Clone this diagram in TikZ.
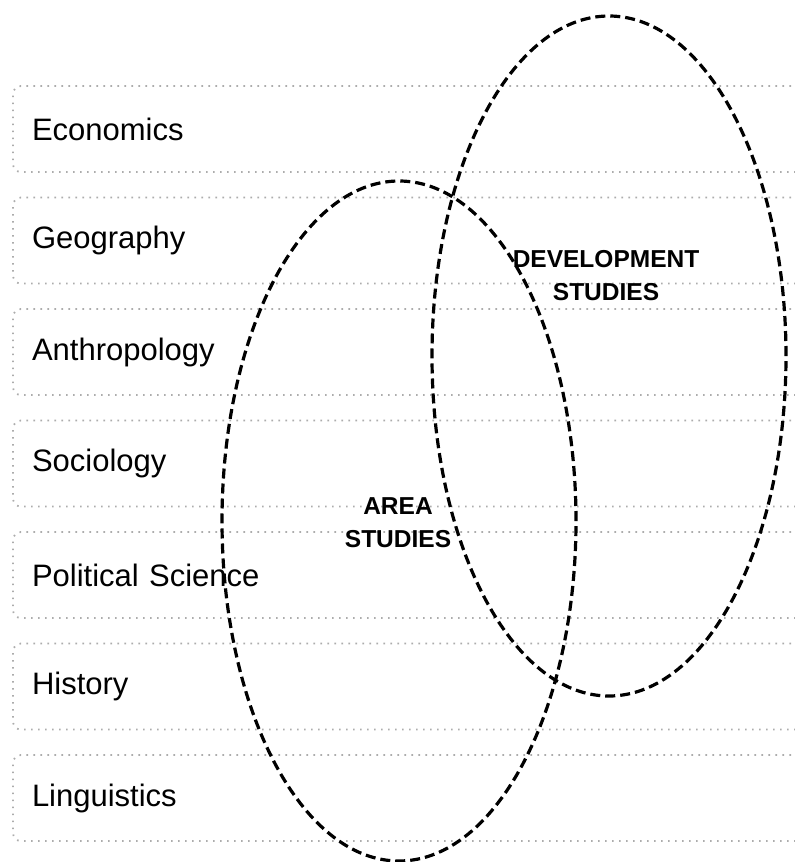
\documentclass[tikz,border=0pt]{standalone}
\usepackage{fontspec}
\setmainfont{Liberation Sans}
\usetikzlibrary{shapes.geometric}

\begin{document}
\begin{tikzpicture}[node distance=111.5pt]

% Stili
\tikzstyle{row} = [rectangle, draw=gray!65, line width=1.8pt,
    dash pattern=on 1.6pt off 5.4pt, rounded corners=8pt,
    minimum height=86pt, text width=762pt, inner xsep=19pt, align=left,
    font=\fontsize{31}{36}\selectfont]
\tikzstyle{field} = [ellipse, draw, line width=3.2pt,
    dash pattern=on 10pt off 5pt, minimum width=354pt, minimum height=680pt]
\tikzstyle{label} = [align=center, font=\bfseries\fontsize{24.5}{33}\selectfont]

\useasboundingbox (0pt,0pt) rectangle (795pt,-862pt);

% Discipline
\node (econ) [row] at (413pt,-129pt) {Economics};
\node (geo) [row, below of=econ] {Geography};
\node (anthro) [row, below of=geo] {Anthropology};
\node (socio) [row, below of=anthro] {Sociology};
\node (polsci) [row, below of=socio] {Political Science};
\node (hist) [row, below of=polsci] {History};
\node (ling) [row, below of=hist] {Linguistics};

% Campi di studio
\node (area) [field] at (399pt,-521pt) {};
\node (devel) [field] at (609pt,-356pt) {};

\node (arealabel) [label] at (398pt,-523pt) {AREA\\STUDIES};
\node (devellabel) [label] at (606pt,-276pt) {DEVELOPMENT\\STUDIES};

\end{tikzpicture}
\end{document}
